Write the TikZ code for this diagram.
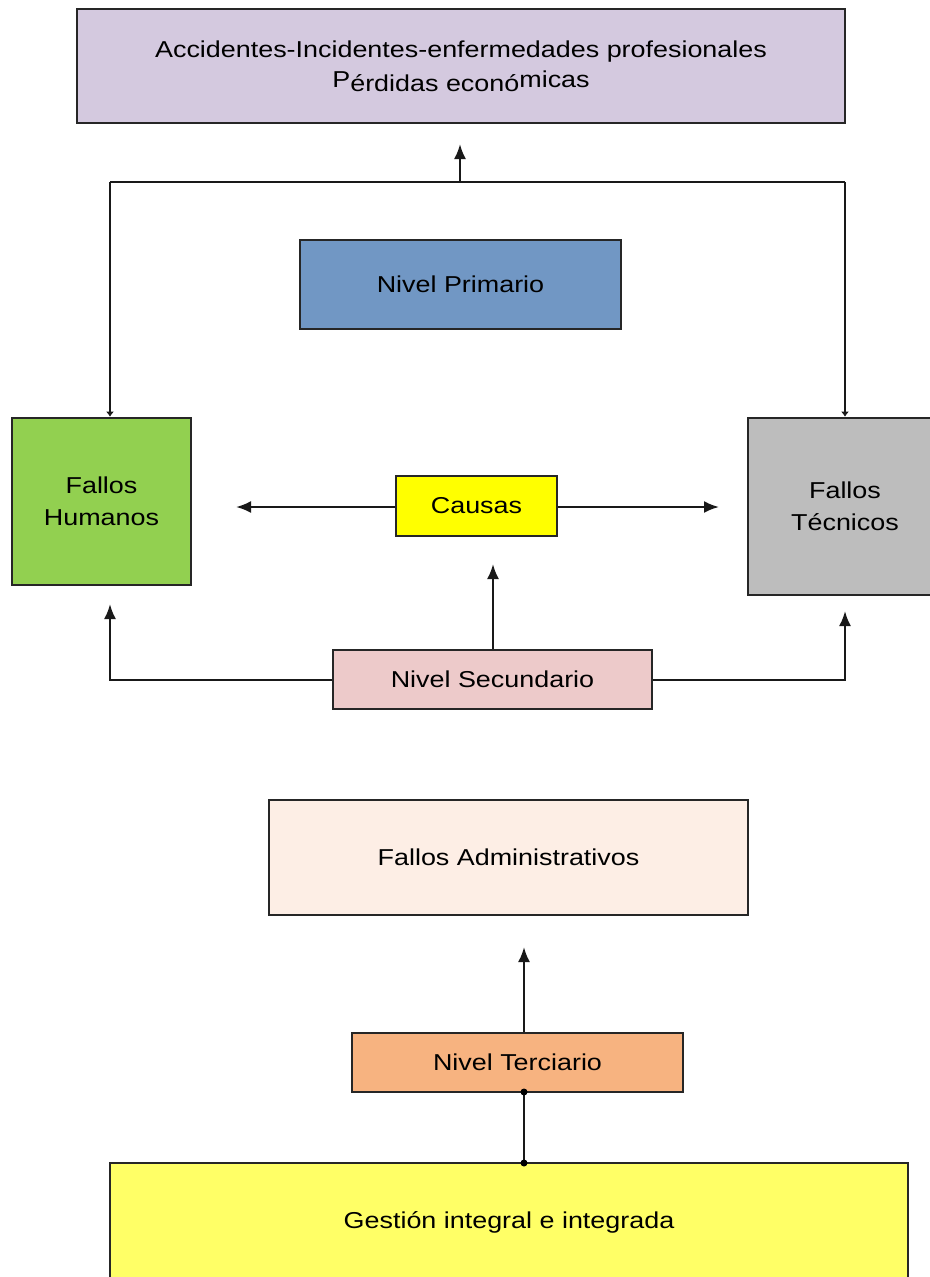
\documentclass[tikz,border=0pt]{standalone}
\usepackage{fontspec}
\setmainfont{Liberation Sans}[FakeStretch=1.17]
\usetikzlibrary{arrows.meta}
\definecolor{cTop}{HTML}{D4C9DF}
\definecolor{cPrim}{HTML}{7197C4}
\definecolor{cHum}{HTML}{92D050}
\definecolor{cTec}{HTML}{BDBDBD}
\definecolor{cCau}{HTML}{FFFF00}
\definecolor{cSec}{HTML}{EDCACA}
\definecolor{cAdm}{HTML}{FDEEE5}
\definecolor{cTer}{HTML}{F7B380}
\definecolor{cGes}{HTML}{FFFF66}
\begin{document}
\begin{tikzpicture}[x=1pt,y=-1pt,
  box/.style={draw=black!85, line width=2.6pt, inner sep=0pt, align=center,
    font=\fontsize{23}{32}\selectfont},
  conn/.style={line width=2.3pt, black!90},
  arr/.style={conn, -{Latex[length=15pt,width=12pt]}},
  tiny/.style={conn, -{Latex[length=5pt,width=8pt]}}]
\useasboundingbox (0,0) rectangle (929,1277);
\fill[white] (0,0) rectangle (929,1277);

\node[box, fill=cTop, minimum width=768pt, minimum height=114pt] (top) at (461,66)
  {Accidentes-Incidentes-enfermedades profesionales\\[-2pt]
   P\raisebox{-0.3ex}{érdidas econó}micas};
\node[box, fill=cPrim, minimum width=321pt, minimum height=89pt] (prim) at (460.5,284.5) {Nivel Primario};
\node[box, fill=cHum, minimum width=179pt, minimum height=167pt] (hum) at (101.5,501.5) {Fallos\\Humanos};
\node[box, fill=cTec, minimum width=194pt, minimum height=177pt] (tec) at (845,506.5) {Fallos\\Técnicos};
\node[box, fill=cCau, minimum width=161pt, minimum height=60pt] (cau) at (476.5,506) {Causas};
\node[box, fill=cSec, minimum width=319pt, minimum height=59pt] (sec) at (492.5,679.5) {Nivel Secundario};
\node[box, fill=cAdm, minimum width=479pt, minimum height=115pt] (adm) at (508.5,857.5) {Fallos Administrativos};
\node[box, fill=cTer, minimum width=331pt, minimum height=59pt] (ter) at (517.5,1062.5) {Nivel Terciario};
\node[box, fill=cGes, minimum width=798pt, minimum height=118pt] (ges) at (509,1222) {Gestión integral e integrada};

% top distribution
\coordinate (jl) at (110,182);
\coordinate (jr) at (845,182);
\coordinate (jm) at (460,182);
\coordinate (jmt) at (460,144);
\draw[conn] (jl) -- (jr);
\draw[arr] (jm) -- (jmt);
\draw[tiny] (jl) -- (jl |- hum.north);
\draw[tiny] (jr) -- (jr |- tec.north);

% causas arrows
\coordinate (cl) at (236,507);
\coordinate (cr) at (719,507);
\draw[arr] (cau.west |- cl) -- (cl);
\draw[arr] (cau.east |- cr) -- (cr);

% secundario
\coordinate (su) at (493,564);
\draw[arr] (sec.north -| su) -- (su);
\coordinate (sl) at (110,680);
\coordinate (slt) at (110,604);
\coordinate (sr) at (845,680);
\coordinate (srt) at (845,611);
\draw[arr] (sec.west |- sl) -- (sl) -- (slt);
\draw[arr] (sec.east |- sr) -- (sr) -- (srt);

% terciario
\coordinate (tu) at (524,947);
\draw[arr] (ter.north -| tu) -- (tu);
\coordinate (tb) at (524,1092);
\coordinate (gt) at (524,1163);
\draw[conn] (tb) -- (gt);
\fill[black] (tb) circle (3.5pt);
\fill[black] (gt) circle (3.5pt);
\end{tikzpicture}
\end{document}
